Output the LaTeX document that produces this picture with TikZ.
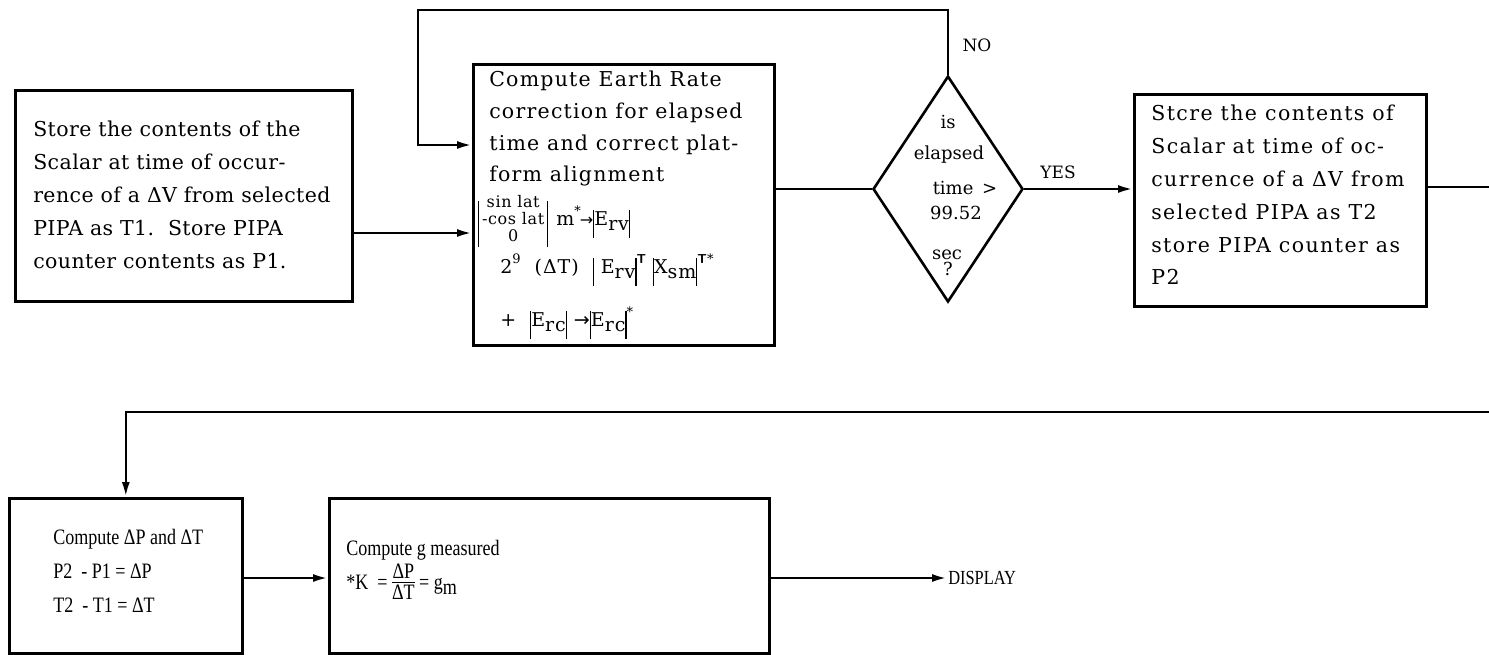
\documentclass[tikz,border=0pt]{standalone}
\usepackage{fontspec}
\setmainfont{DejaVu Serif}
\newfontfamily\lowfont{Liberation Serif}[FakeStretch=0.82]
\newfontfamily\symfont{DejaVu Sans}
\usetikzlibrary{arrows.meta,shapes.geometric}
\newcommand{\vb}[2]{\rule[-#2]{1.1pt}{\dimexpr#1+#2\relax}}
\newcommand{\tsup}[1]{\raisebox{10pt}{\fontsize{13}{13}\selectfont #1}}
\newcommand{\tsub}[1]{\raisebox{-5pt}{#1}}
\begin{document}
\begin{tikzpicture}[x=1pt,y=-1pt,line width=2.6pt,
  box/.style={draw,rectangle,inner sep=0pt,anchor=north west},
  arr/.style={-{Latex[length=15pt,width=8pt]}},
  txt/.style={align=left,inner sep=0pt,anchor=north west},
  mtxt/.style={inner sep=0pt,anchor=west,font=\fontsize{19}{22}\selectfont\addfontfeature{LetterSpace=5}},
  dtxt/.style={inner sep=0pt,font=\fontsize{18}{20}\selectfont},
  lowtxt/.style={align=left,inner sep=0pt,anchor=north west,font=\lowfont\fontsize{22}{34}\selectfont},
  lbl/.style={inner sep=0pt,font=\fontsize{17}{20}\selectfont}]
\useasboundingbox (0,0) rectangle (1489,654);
% boxes
\node[box,minimum width=337pt,minimum height=211pt] (A) at (14,89) {};
\node[box,minimum width=301pt,minimum height=281pt] (B) at (472,63) {};
\node[draw,diamond,inner sep=0pt,minimum width=150pt,minimum height=226pt,aspect=0.66] (Q) at (948,189) {};
\node[box,minimum width=292pt,minimum height=212pt] (C) at (1133,93) {};
\node[box,minimum width=233pt,minimum height=155pt] (P) at (8,497) {};
\node[box,minimum width=440pt,minimum height=155pt] (G) at (328,497) {};
\coordinate (edgeA) at (1489,187);
\coordinate (edgeB) at (1489,412);
% texts
\node[txt,font=\fontsize{20.5}{33}\selectfont\addfontfeature{LetterSpace=2}] (Atxt) at (32,120)
  {Store the contents of the\\Scalar at time of occur-\\rence of a ΔV from selected\\PIPA as T1.\ \ Store PIPA\\counter contents as P1.};
\node[txt,font=\fontsize{20.5}{31.7}\selectfont\addfontfeature{LetterSpace=6}] (Btxt) at (488,70)
  {Compute Earth Rate\\correction for elapsed\\time and correct plat-\\form alignment};
\node[inner sep=0pt,anchor=west,font=\fontsize{16}{17}\selectfont\addfontfeature{LetterSpace=4}] (Bm1) at (477,221)
  {\vb{24pt}{22pt}\,\begin{tabular}{@{}c@{}}sin lat\\-cos lat\\0\end{tabular}\,\vb{24pt}{22pt}\ \,{\fontsize{19}{22}\selectfont m}\tsup{*}{\symfont\kern-1pt→}\vb{15pt}{13pt}{\fontsize{19}{22}\selectfont E}\tsub{\fontsize{19}{22}\selectfont rv}\vb{15pt}{13pt}};
\node[mtxt] (Bm2) at (499,270)
  {2\tsup{9}\ \ (ΔT)\ \ \vb{15pt}{13pt}\ E\tsub{rv}\vb{15pt}{13pt}\tsup{\textsf{\textbf{T}}}\ \vb{15pt}{13pt}X\tsub{sm}\vb{15pt}{13pt}\tsup{\textsf{\textbf{T}}*}};
\node[mtxt] (Bm3) at (499,323)
  {+\ \ \vb{15pt}{13pt}E\tsub{rc}\vb{15pt}{13pt}\ {\symfont→}\vb{15pt}{13pt}E\tsub{rc}\vb{15pt}{13pt}\tsup{*}};
\node[dtxt] (q1) at (948,122) {is};
\node[dtxt] (q2) at (949,155) {elapsed};
\node[dtxt] (q3) at (965,188) {time \,>};
\node[dtxt] (q4) at (956,213) {99.52};
\node[dtxt] (q5) at (947,255) {sec};
\node[dtxt] (q6) at (948,269) {?};
\node[lbl] (no) at (977,45) {NO};
\node[lbl] (yes) at (1058,172) {YES};
\node[txt,font=\fontsize{20.5}{32.8}\selectfont\addfontfeature{LetterSpace=7}] (Ctxt) at (1150,104)
  {Stcre the contents of\\Scalar at time of oc-\\currence of a ΔV from\\selected PIPA as T2\\store PIPA counter as\\P2};
\node[lowtxt] (Ptxt) at (52,528) {Compute ΔP and ΔT\\P2\ \ -\ P1 = ΔP\\T2\ \ -\ T1 = ΔT};
\node[lowtxt] (Gt1) at (345,539) {Compute g measured};
\node[inner sep=0pt,anchor=west,font=\lowfont\fontsize{22}{24}\selectfont] (Gt2) at (345,584)
  {*K\ \ = \begin{tabular}{@{}c@{}}ΔP\\[-4pt]\hline ΔT\end{tabular} = g\tsub{m}};
\node[inner sep=0pt,anchor=west,font=\lowfont\fontsize{20}{22}\selectfont] (disp) at (947,578) {DISPLAY};
% connectors
\draw[arr] (A.east |- 0,233) -- (B.west |- 0,233);
\draw[arr] (Q.north) -- (Q.north |- 0,10) -| (418,145) -- (B.west |- 0,145);
\draw (B.east |- Q.west) -- (Q.west);
\draw[arr] (Q.east) -- (C.west |- Q.east);
\draw (C.east |- edgeA) -- (edgeA);
\draw[arr] (edgeB) -| (P.north);
\draw[arr] (P.east |- 0,578) -- (G.west |- 0,578);
\draw[arr] (G.east |- disp.west) -- (disp.west);
\end{tikzpicture}
\end{document}
